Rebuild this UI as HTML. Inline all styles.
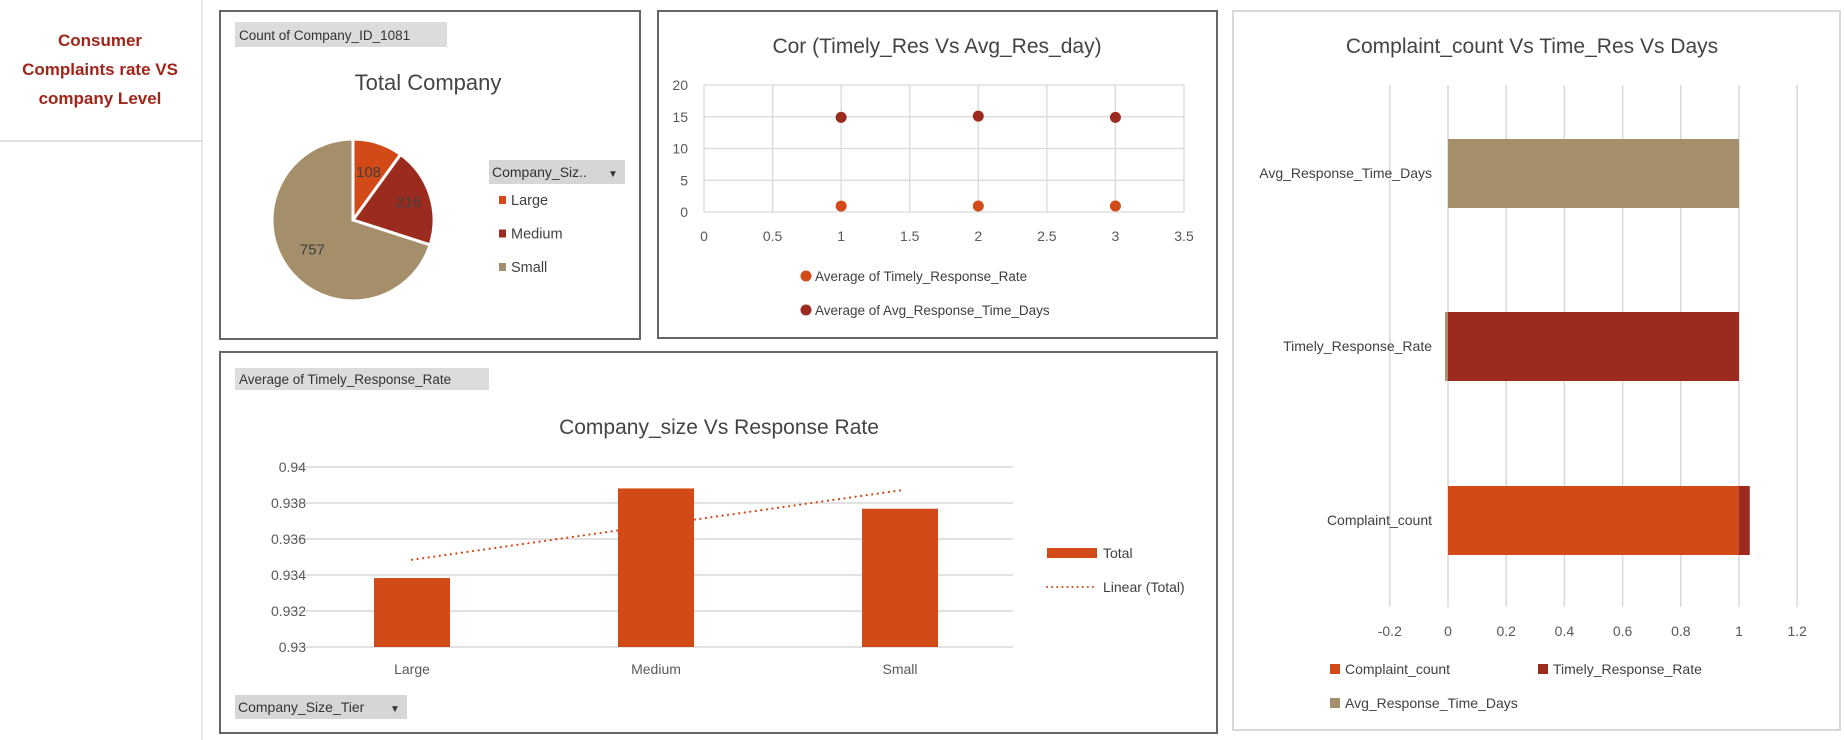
<!DOCTYPE html>
<html><head><meta charset="utf-8"><style>
body{margin:0;background:#fff;}
svg{display:block;font-family:"Liberation Sans",sans-serif;}
</style></head><body>
<svg id="s" width="1844" height="740" viewBox="0 0 1844 740">
<g>
<line x1="202" y1="0" x2="202" y2="740" stroke="#e0e0e0" stroke-width="1.5"/>
<line x1="0" y1="141" x2="202" y2="141" stroke="#d9d9d9" stroke-width="1.5"/>
<text x="100" y="46" text-anchor="middle" font-size="17" font-weight="bold" fill="#a0261b">Consumer</text>
<text x="100" y="75" text-anchor="middle" font-size="17" font-weight="bold" fill="#a0261b">Complaints rate VS</text>
<text x="100" y="104" text-anchor="middle" font-size="17" font-weight="bold" fill="#a0261b">company Level</text>
</g>
<g>
<rect x="220" y="11" width="420" height="328" fill="#fff" stroke="#666" stroke-width="2"/>
<rect x="235" y="22" width="212" height="25" fill="#dcdcdc"/>
<text x="239" y="40" font-size="13.5" fill="#333">Count of Company_ID_1081</text>
<text x="428" y="90" text-anchor="middle" font-size="22" fill="#444">Total Company</text>
<g id="pie"></g>
<rect x="489" y="160" width="136" height="24" fill="#d6d6d6"/>
<text x="492" y="177" font-size="14" fill="#333">Company_Siz..</text>
<text x="608" y="177" font-size="10" fill="#333">▼</text>
<g id="pieLegend"></g>
</g>
<g>
<rect x="658" y="11" width="559" height="327" fill="#fff" stroke="#666" stroke-width="2"/>
<text x="937" y="53" text-anchor="middle" font-size="21" fill="#444">Cor (Timely_Res Vs Avg_Res_day)</text>
<g id="scatter"></g>
</g>
<g>
<rect x="220" y="352" width="997" height="381" fill="#fff" stroke="#666" stroke-width="2"/>
<rect x="235" y="368" width="254" height="22" fill="#dcdcdc"/>
<text x="239" y="384" font-size="13.5" fill="#333">Average of Timely_Response_Rate</text>
<text x="719" y="434" text-anchor="middle" font-size="21" fill="#444">Company_size Vs Response Rate</text>
<g id="bars"></g>
<rect x="235" y="695" width="172" height="24" fill="#d6d6d6"/>
<text x="238" y="712" font-size="14" fill="#333">Company_Size_Tier</text>
<text x="390" y="712" font-size="10" fill="#333">▼</text>
</g>
<g>
<rect x="1233" y="11" width="607" height="719" fill="#fff" stroke="#d9d9d9" stroke-width="2"/>
<text x="1532" y="53" text-anchor="middle" font-size="21" fill="#444">Complaint_count Vs Time_Res Vs Days</text>
<g id="hbars"></g>
</g>
</svg>
<script>
const pieCats=["Large","Medium","Small"];
const pieVals=[108,216,757];
const scatterX=[1,2,3];
const scatterTimely=[0.934,0.939,0.938];
const scatterAvgDays=[14.9,15.1,14.9];
const scatterXTicks=[0,0.5,1,1.5,2,2.5,3,3.5];
const scatterYTicks=[0,5,10,15,20];
const barCats=["Large","Medium","Small"];
const barVals=[0.93383,0.93881,0.93768];
const barYTicks=[0.93,0.932,0.934,0.936,0.938,0.94];
const hCats=["Complaint_count","Timely_Response_Rate","Avg_Response_Time_Days"];
const hSeries=["Complaint_count","Timely_Response_Rate","Avg_Response_Time_Days"];
const hComplaint=[1,0,0];
const hTimely=[0.037,1,0];
const hAvgDays=[0,-0.01,1];
const hXTicks=[-0.2,0,0.2,0.4,0.6,0.8,1,1.2];
const colors=["#d24a18","#9c2b1f","#a58f6b"];
const NS="http://www.w3.org/2000/svg";
function mk(p,t,a,txt){const e=document.createElementNS(NS,t);for(const k in a)e.setAttribute(k,a[k]);if(txt!==undefined)e.textContent=txt;p.appendChild(e);return e;}
// Pie
(function(){
const g=document.getElementById('pie');const cx=353,cy=220,r=81;
const tot=pieVals.reduce((a,b)=>a+b,0);let a0=-Math.PI/2;
const lblR=[0.62,0.72,0.62];
pieVals.forEach((v,i)=>{const a1=a0+v/tot*2*Math.PI;
const x0=cx+r*Math.cos(a0),y0=cy+r*Math.sin(a0),x1=cx+r*Math.cos(a1),y1=cy+r*Math.sin(a1);
const p=mk(g,'path',{d:`M${cx},${cy}L${x0},${y0}A${r},${r} 0 ${a1-a0>Math.PI?1:0} 1 ${x1},${y1}Z`,fill:colors[i],stroke:'#fff','stroke-width':3});


const am=(a0+a1)/2;const t=mk(g,'text',{x:cx+r*lblR[i]*Math.cos(am),y:cy+r*lblR[i]*Math.sin(am)+5,'text-anchor':'middle','font-size':15,fill:'#404040'},String(v));


a0=a1;});
const lg=document.getElementById('pieLegend');
pieCats.forEach((c,i)=>{const y=201+i*33.5;
const r2=mk(lg,'rect',{x:499,y:y-5,width:7,height:8,fill:colors[i]});


const t=mk(lg,'text',{x:511,y:y+4,'font-size':14.5,fill:'#404040'},c);

});
})();
// Scatter
(function(){
const g=document.getElementById('scatter');
const X=v=>704+v/3.5*480, Y=v=>212-v/20*127;
scatterXTicks.forEach(t=>{const l=mk(g,'line',{x1:X(t),y1:Y(20),x2:X(t),y2:Y(0),stroke:'#d9d9d9','stroke-width':1.3});


const tx=mk(g,'text',{x:X(t),y:241,'text-anchor':'middle','font-size':14,fill:'#595959'},String(t));

});
scatterYTicks.forEach(t=>{const l=mk(g,'line',{x1:X(0),y1:Y(t),x2:X(3.5),y2:Y(t),stroke:'#d9d9d9','stroke-width':1.3});


const tx=mk(g,'text',{x:688,y:Y(t)+5,'text-anchor':'end','font-size':14,fill:'#595959'},String(t));

});
scatterX.forEach((x,i)=>{
const c1=mk(g,'circle',{cx:X(x),cy:Y(scatterTimely[i]),r:5.5,fill:colors[0]});


const c2=mk(g,'circle',{cx:X(x),cy:Y(scatterAvgDays[i]),r:5.5,fill:colors[1]});

});
["Average of Timely_Response_Rate","Average of Avg_Response_Time_Days"].forEach((s,i)=>{const y=276+i*34;
const c=mk(g,'circle',{cx:806,cy:y,r:5.5,fill:colors[i]});


const t=mk(g,'text',{x:815,y:y+5,'font-size':13.5,fill:'#404040'},s);

});
})();
// Column
(function(){
const g=document.getElementById('bars');
const L=290,R=1022,bw=(R-L)/barCats.length;
const Y=v=>647-(v-0.93)/0.01*180, Xc=i=>L+bw*(i+0.5);
barYTicks.forEach(t=>{const l=mk(g,'line',{x1:L,y1:Y(t),x2:1013,y2:Y(t),stroke:'#d9d9d9','stroke-width':1.5});


const tx=mk(g,'text',{x:306,y:Y(t)+5,'text-anchor':'end','font-size':14,fill:'#595959'},String(t));

});
barCats.forEach((c,i)=>{const r=mk(g,'rect',{x:Xc(i)-38,y:Y(barVals[i]),width:76,height:Y(0.93)-Y(barVals[i]),fill:colors[0]});


const t=mk(g,'text',{x:Xc(i),y:674,'text-anchor':'middle','font-size':14,fill:'#595959'},c);

});
const n=barVals.length,mx=(n-1)/2,my=barVals.reduce((a,b)=>a+b,0)/n;
let sxy=0,sxx=0;barVals.forEach((v,i)=>{sxy+=(i-mx)*(v-my);sxx+=(i-mx)*(i-mx);});
const sl=sxy/sxx;
const tl=mk(g,'line',{x1:Xc(0),y1:Y(my+sl*(0-mx)),x2:Xc(n-1),y2:Y(my+sl*(n-1-mx)),stroke:colors[0],'stroke-width':2.2,'stroke-dasharray':'0.1,5.5','stroke-linecap':'round'});


const lr=mk(g,'rect',{x:1047,y:548,width:50,height:10,fill:colors[0]});


const lt=mk(g,'text',{x:1103,y:558,'font-size':14,fill:'#404040'},'Total');


const ll=mk(g,'line',{x1:1047,y1:587,x2:1097,y2:587,stroke:colors[0],'stroke-width':2,'stroke-dasharray':'0.1,5','stroke-linecap':'round'});


const lt2=mk(g,'text',{x:1103,y:592,'font-size':14,fill:'#404040'},'Linear (Total)');


})();
// Horizontal stacked
(function(){
const g=document.getElementById('hbars');
const X=v=>1448+v*291;
const rowC=[520,346,173];
hXTicks.forEach(t=>{const l=mk(g,'line',{x1:X(t),y1:85,x2:X(t),y2:607,stroke:'#d9d9d9','stroke-width':1.5});


const tx=mk(g,'text',{x:X(t),y:636,'text-anchor':'middle','font-size':14,fill:'#595959'},String(t));

});
const series=[hComplaint,hTimely,hAvgDays];
hCats.forEach((c,i)=>{let pos=0,neg=0;
series.forEach((s,j)=>{const v=s[i];if(!v)return;let a,b;
if(v>0){a=pos;b=pos+v;pos=b;}else{b=neg;a=neg+v;neg=a;}
const r=mk(g,'rect',{x:X(a),y:rowC[i]-34,width:Math.max(X(b)-X(a),1.5),height:69,fill:colors[j]});

});
const t=mk(g,'text',{x:1432,y:rowC[i]+5,'text-anchor':'end','font-size':14,fill:'#404040'},c);

});
const lp=[[1330,669],[1538,669],[1330,703]];
hSeries.forEach((s,j)=>{const r=mk(g,'rect',{x:lp[j][0],y:lp[j][1]-5,width:10,height:10,fill:colors[j]});


const t=mk(g,'text',{x:lp[j][0]+15,y:lp[j][1]+5,'font-size':14,fill:'#404040'},s);

});
})();
</script>
</body></html>
